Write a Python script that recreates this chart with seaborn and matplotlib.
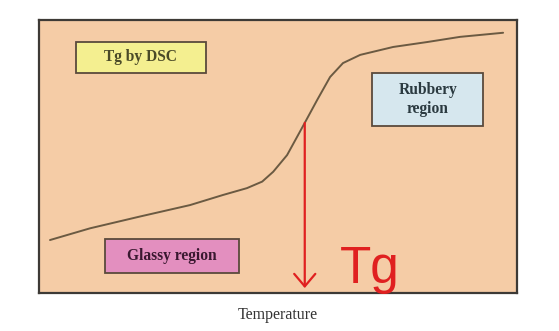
import matplotlib
matplotlib.use("Agg")
import matplotlib.pyplot as plt
from matplotlib.patches import Rectangle
import seaborn as sns
import pandas as pd

# Curve data (temperature vs. property)
temperature = [2.3, 10.7, 21.1, 31.6, 38.5, 43.5, 46.7, 49.0, 51.9, 55.6,
               58.2, 60.9, 63.6, 67.2, 74.1, 81.2, 88.1, 97.1]
response = [19.4, 23.7, 28.0, 32.2, 35.9, 38.4, 40.8, 44.4, 50.5, 62.3,
            70.7, 79.1, 84.2, 87.2, 90.1, 91.9, 93.8, 95.3]

tg_x = 55.6
tg_top = 62.3

box_labels = ["Tg by DSC", "Rubbery\nregion", "Glassy region"]

sns.set_style("white")
plt.rcParams["font.family"] = ["Liberation Serif", "DejaVu Serif"]

fig = plt.figure(figsize=(5.59, 3.31), dpi=100)
ax = fig.add_axes([0.0698, 0.1148, 0.855, 0.825])

df = pd.DataFrame({"Temperature": temperature, "Property": response})
sns.lineplot(data=df, x="Temperature", y="Property", ax=ax, color="#6b5a42",
             linewidth=1.4, solid_joinstyle="round")

ax.set_xlim(0, 100)
ax.set_ylim(0, 100)
ax.set_facecolor("#f5cca6")
for s in ax.spines.values():
    s.set_color("#3d3a36")
    s.set_linewidth(1.6)
ax.set_xticks([])
ax.set_yticks([])
ax.set_ylabel("")
ax.set_xlabel("Temperature", fontsize=11.5, color="#333333", labelpad=10,
              family=["Liberation Serif", "DejaVu Serif"])

# Boxes: (x0, y0, w, h), fill, text colour
boxes = [
    ((7.7, 80.6, 27.2, 11.3), "#f4ef90", "#4a4a28"),
    ((69.7, 61.2, 23.2, 19.4), "#d6e7ee", "#2b3a40"),
    ((13.8, 7.3, 28.0, 12.5), "#e38fbf", "#3a1830"),
]
for label, ((x0, y0, w, h), fc, tc) in zip(box_labels, boxes):
    ax.add_patch(Rectangle((x0, y0), w, h, facecolor=fc, edgecolor="#5a4a3c",
                           linewidth=1.3, zorder=3))
    ax.text(x0 + w / 2, y0 + h / 2, label, ha="center", va="center",
            fontsize=11.2, fontweight="bold", color=tc, zorder=4,
            linespacing=1.2, family=["Liberation Serif", "DejaVu Serif"])

# Red Tg arrow
ax.annotate("", xy=(tg_x, 1.8), xytext=(tg_x, tg_top),
            arrowprops=dict(arrowstyle="->,head_length=0.45,head_width=0.38",
                            color="#e02020", linewidth=1.6, mutation_scale=20,
                            shrinkA=0, shrinkB=0), zorder=5)
ax.text(63.0, 3.7, "Tg", color="#e02020", fontsize=37, ha="left", va="baseline",
        family=["Liberation Sans", "DejaVu Sans"], zorder=5)

fig.savefig("out.png", dpi=100)
